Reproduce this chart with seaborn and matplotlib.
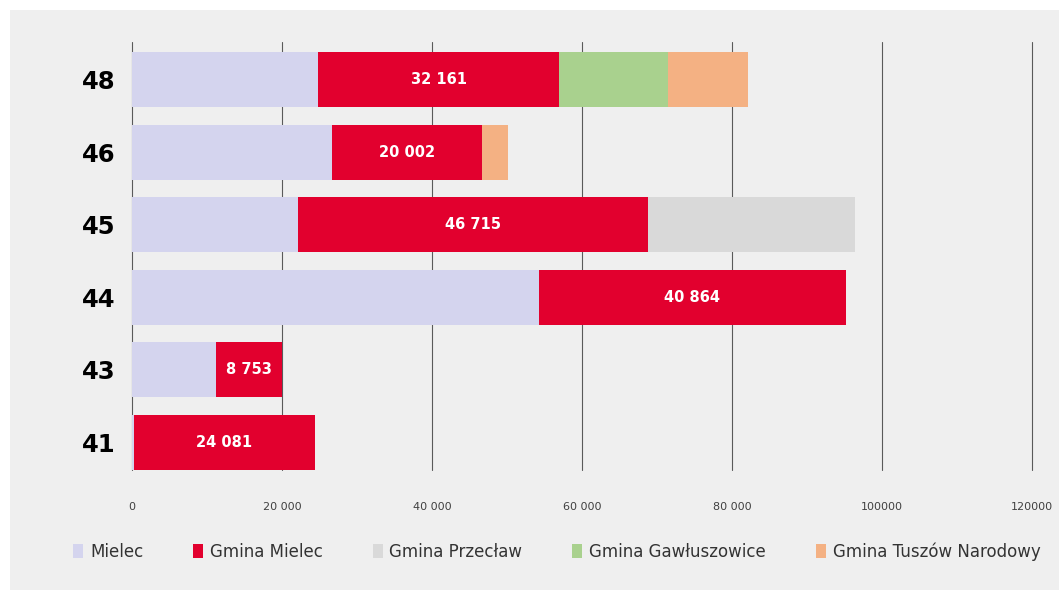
import matplotlib.pyplot as plt
import numpy as np
import pandas as pd
import seaborn as sns
from matplotlib.patches import Rectangle

# Data
districts = ["48", "46", "45", "44", "43", "41"]
series = ["Mielec", "Gmina Mielec", "Gmina Przecław", "Gmina Gawłuszowice", "Gmina Tuszów Narodowy"]
mielec = [24800, 26670, 22130, 54270, 11200, 300]
gmina_mielec = [32161, 20002, 46715, 40864, 8753, 24081]
przeclaw = [0, 0, 27550, 0, 0, 0]
gawluszowice = [14500, 0, 0, 0, 0, 0]
tuszow = [10700, 3460, 0, 0, 0, 0]
colors = ["#d4d4ee", "#e2002e", "#d9d9d9", "#a9d18e", "#f4b183"]
xticks = [0, 20000, 40000, 60000, 80000, 100000, 120000]
xtick_labels = ["0", "20 000", "40 000", "60 000", "80 000", "100000", "120000"]

values = np.array([mielec, gmina_mielec, przeclaw, gawluszowice, tuszow])
cumsum = values.cumsum(axis=0)

bg = "#efefef"
sns.set_theme(style="white")
plt.rcParams["font.family"] = ["DejaVu Sans"]

fig = plt.figure(figsize=(10.59, 5.90), dpi=100, facecolor="white")
# grey panel with a thin white margin on the top and left
panel = Rectangle((10 / 1059, 0), 1, 1 - 10 / 590, transform=fig.transFigure,
                  facecolor=bg, edgecolor="none", zorder=-10)
fig.add_artist(panel)

ax = fig.add_axes([132 / 1059, 1 - 470 / 590, 900 / 1059, 428 / 590])
ax.set_facecolor(bg)

# Stacked bars: draw the cumulative totals from the outermost inwards
for i in range(len(series) - 1, -1, -1):
    df = pd.DataFrame({"district": districts, "value": cumsum[i]})
    sns.barplot(
        data=df, x="value", y="district", order=districts, color=colors[i],
        orient="h", width=0.76, saturation=1, linewidth=0, ax=ax, zorder=3,
        label=series[i],
    )

# labels on the red segments
for j, d in enumerate(districts):
    center = mielec[j] + gmina_mielec[j] / 2
    ax.text(center, j, f"{gmina_mielec[j]:,}".replace(",", " "), color="white",
            fontsize=10.5, fontweight="bold", ha="center", va="center", zorder=4)

ax.set_xlim(0, 120000)
ax.set_ylim(5.38, -0.52)
ax.set_xticks(xticks)
ax.set_xticklabels(xtick_labels, fontsize=8, color="#404040")
ax.tick_params(axis="x", length=0, pad=23)
ax.tick_params(axis="y", length=0, pad=12)
for lbl in ax.get_yticklabels():
    lbl.set_fontsize(17.5)
    lbl.set_fontweight("bold")
    lbl.set_color("black")
ax.set_xlabel("")
ax.set_ylabel("")
for x in xticks:
    ax.axvline(x, color="#5a5a5a", linewidth=0.8, zorder=1, clip_on=False)
for s in ax.spines.values():
    s.set_visible(False)

handles, labels = ax.get_legend_handles_labels()
order = [labels.index(s) for s in series]
ax.legend([handles[k] for k in order], [labels[k] for k in order],
          loc="center", bbox_to_anchor=(0.472, -0.19), ncol=5, frameon=False,
          fontsize=12, handlelength=0.6, handleheight=0.9, handletextpad=0.4,
          columnspacing=3.0, labelcolor="#333333")

fig.savefig("out.png", dpi=100, facecolor="white")
